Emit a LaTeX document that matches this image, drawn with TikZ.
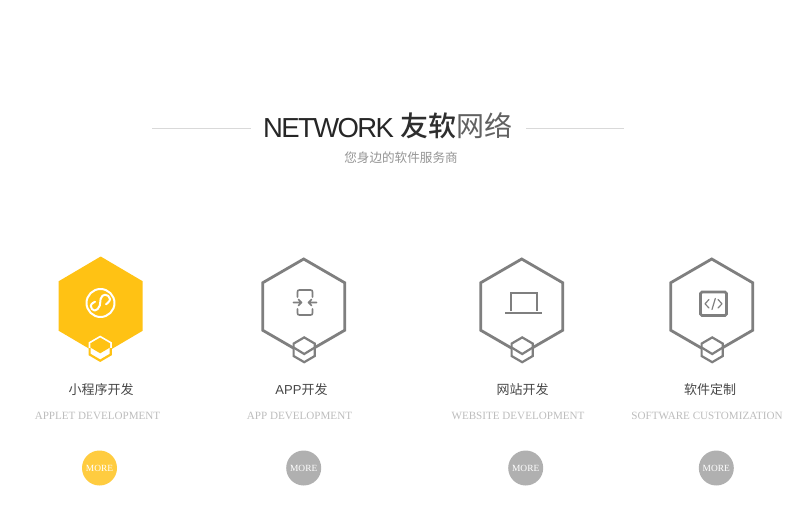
\documentclass[tikz,border=0pt]{standalone}
\usepackage{fontspec}
\setmainfont{Liberation Serif}
\newfontfamily\cjkf[BoldFont=* Medium]{Noto Sans CJK SC}
\newfontfamily\arialf{Liberation Sans}
\newfontfamily\arialtight[LetterSpace=-6]{Liberation Sans}
\definecolor{hexgrey}{HTML}{7F7F7F}
\definecolor{hexyellow}{HTML}{FFC214}
\definecolor{moreyellow}{HTML}{FFCC40}
\definecolor{moregrey}{HTML}{B0B0B0}
\definecolor{capgrey}{HTML}{BDBDBD}
\definecolor{ruleg}{HTML}{D9D9D9}
\newcommand{\hexpath}[4]{(#1,#2-#3) -- (#1+#4,#2-#3/2) -- (#1+#4,#2+#3/2) -- (#1,#2+#3) -- (#1-#4,#2+#3/2) -- (#1-#4,#2-#3/2) -- cycle}
\newcommand{\bighex}[1]{%
  \draw[bigline] \hexpath{#1}{306.5}{47.5}{41};
  \draw[smallline, fill=white] \hexpath{#1+.5}{349.8}{12.4}{10.6};
  \draw[smallline] (#1+.5-10.6,347.5) -- (#1+.5,354) -- (#1+.5+10.6,347.5);
}
\newcommand{\col}[7]{%
  \node[labeltxt] (#1a) at (#2,389.5) {#3};
  \node[captxt] (#1b) at (#4,415.5) {#5};
  \node[morebtn, fill=#7] (#1c) at (#6,468) {MORE};
}
\tikzset{
  x=1pt, y=-1pt,
  bigline/.style={draw=hexgrey, line width=2.8pt, line join=miter},
  smallline/.style={draw=hexgrey, line width=2.2pt, line join=miter},
  icon/.style={draw=hexgrey, line width=1.6pt, line cap=round, line join=round},
  whiteicon/.style={draw=white, line width=2pt, line cap=round, line join=round},
  ruleline/.style={draw=ruleg, line width=1.5pt},
  labeltxt/.style={inner sep=0pt, font=\cjkf\fontsize{13}{13}\selectfont, text=black!72},
  captxt/.style={inner sep=0pt, font=\fontsize{11.1}{12}\selectfont, text=capgrey},
  morebtn/.style={circle, minimum size=35pt, inner sep=0pt, text=white, font=\fontsize{9.4}{10}\selectfont},
}
\begin{document}
\begin{tikzpicture}
\useasboundingbox[fill=white] (0,0) rectangle (800,516);
% title
\coordinate (l1) at (152,128.5); \coordinate (l2) at (251,128.5);
\coordinate (r1) at (526,128.5); \coordinate (r2) at (624,128.5);
\draw[ruleline] (l1) -- (l2);
\draw[ruleline] (r1) -- (r2);
\node[inner sep=0pt, anchor=center, text=black!85, font=\arialtight\fontsize{27.5}{28}\selectfont] (tnet) at (328.5,127.7) {NETWORK};
\node[inner sep=0pt, text=black!82, font=\cjkf\bfseries\fontsize{28}{28}\selectfont] (tyr) at (428,126) {友软};
\node[inner sep=0pt, text=black!62, font=\cjkf\fontsize{28}{28}\selectfont] (twl) at (484,126) {网络};
\node[inner sep=0pt, text=black!42, font=\cjkf\fontsize{12.6}{13}\selectfont] (tsub) at (401,157.5) {您身边的软件服务商};
% hex 1
\fill[hexyellow] \hexpath{100.7}{306}{49.5}{42};
\fill[white] (100.2,335.6) -- (111.9,342.4) -- (111.9,355) -- (100.2,361.8) -- (88.5,355) -- (88.5,342.4) -- cycle;
\draw[hexyellow, line width=2.2pt, line join=miter] (89.6,348) -- (89.6,354.5) -- (100.2,360.7) -- (110.8,354.5) -- (110.8,348);
\fill[hexyellow] (100.2,337.6) -- (110,343.3) -- (110,347.5) -- (100.2,353.3) -- (90.4,347.5) -- (90.4,343.3) -- cycle;
\draw[whiteicon] (100.5,303) circle (14);
\draw[whiteicon] plot[smooth, tension=.9] coordinates {(95,301.8) (90.8,305.8) (94.8,310.6) (99.8,305.5) (100.6,299) (105,294.7) (110,299) (106,304.3)};
% hex 2
\bighex{303.7}
\draw[icon] (297.5,297) -- (297.5,292) .. controls (297.5,290.7) and (298,290) .. (299.5,290) -- (310.5,290) .. controls (312,290) and (312.5,290.7) .. (312.5,292) -- (312.5,297);
\draw[icon] (297.5,309) -- (297.5,313) .. controls (297.5,314.3) and (298,315) .. (299.5,315) -- (310.5,315) .. controls (312,315) and (312.5,314.3) .. (312.5,313) -- (312.5,309);
\draw[icon] (293.5,302.5) -- (301.5,302.5) (298.5,299.5) -- (301.5,302.5) -- (298.5,305.5);
\draw[icon] (316.5,302.5) -- (308.5,302.5) (311.5,299.5) -- (308.5,302.5) -- (311.5,305.5);
% hex 3
\bighex{521.7}
\draw[draw=hexgrey, line width=2pt] (510.5,311) -- (510.5,293) -- (537,293) -- (537,311);
\draw[draw=hexgrey, line width=2.6pt] (505,313) -- (542,313);
% hex 4
\bighex{711.7}
\draw[draw=hexgrey, line width=2.8pt, rounded corners=1.5pt] (700.5,292) rectangle (726.5,315.5);
\draw[icon, line width=1.2pt] (709,299.5) -- (705,303.8) -- (709,308);
\draw[icon, line width=1.2pt] (718,299.5) -- (722,303.8) -- (718,308);
\draw[icon, line width=1.2pt] (715.3,298.5) -- (712,309.5);
% columns
\col{a}{101}{小程序开发}{97.5}{APPLET DEVELOPMENT}{99.5}{moreyellow}
\col{b}{301.5}{\arialf APP\cjkf 开发}{299.5}{APP DEVELOPMENT}{303.7}{moregrey}
\col{c}{522.5}{网站开发}{518}{WEBSITE DEVELOPMENT}{525.7}{moregrey}
\col{d}{710}{软件定制}{707}{SOFTWARE CUSTOMIZATION}{716.3}{moregrey}
\end{tikzpicture}
\end{document}
